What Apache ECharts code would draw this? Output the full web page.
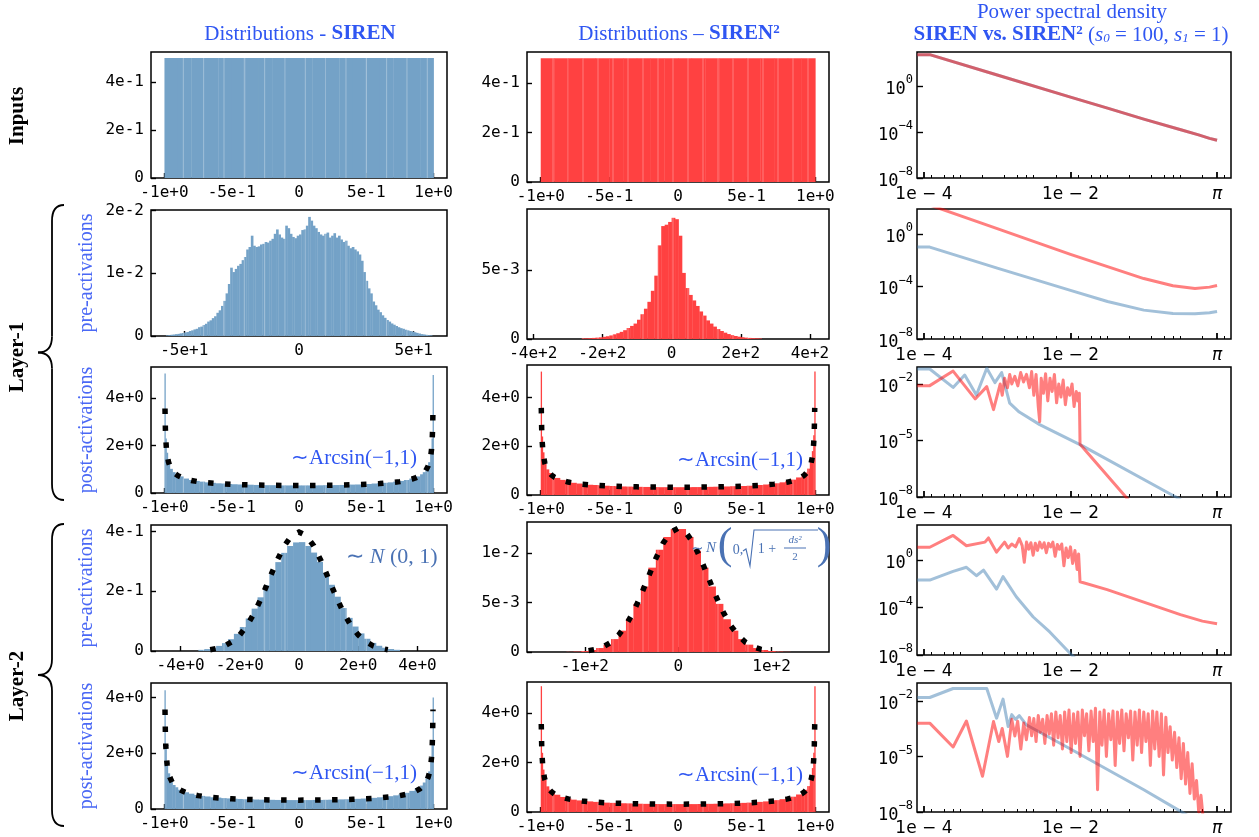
<!DOCTYPE html>
<html>
<head>
<meta charset="utf-8">
<title>SIREN vs SIREN² — distributions and power spectral density</title>
<script src="https://cdn.jsdelivr.net/npm/echarts@6.0.0/dist/echarts.min.js"></script>
<style>
  html, body { margin: 0; padding: 0; background: #ffffff; }
  #chart { width: 1259px; height: 837px; }
</style>
</head>
<body>
<div id="chart"></div>
<script>
// ===================== data =====================

// ---- tick labels ----
const unitTicks = [-1, -0.5, 0, 0.5, 1];
const unitTickLabels = ['-1e+0', '-5e-1', '0', '5e-1', '1e+0'];
const inputYTicks = [0, 0.2, 0.4];
const inputYTickLabels = ['0', '2e-1', '4e-1'];
const l1PreSirenXTicks = [-50, 0, 50];
const l1PreSirenXTickLabels = ['-5e+1', '0', '5e+1'];
const l1PreSirenYTicks = [0, 0.01, 0.02];
const l1PreSirenYTickLabels = ['0', '1e-2', '2e-2'];
const l1PreSiren2XTicks = [-400, -200, 0, 200, 400];
const l1PreSiren2XTickLabels = ['-4e+2', '-2e+2', '0', '2e+2', '4e+2'];
const l1PreSiren2YTicks = [0, 0.005];
const l1PreSiren2YTickLabels = ['0', '5e-3'];
const postYTicks = [0, 2, 4];
const postYTickLabels = ['0', '2e+0', '4e+0'];
const l2PreSirenXTicks = [-4, -2, 0, 2, 4];
const l2PreSirenXTickLabels = ['-4e+0', '-2e+0', '0', '2e+0', '4e+0'];
const l2PreSirenYTicks = [0, 0.2, 0.4];
const l2PreSirenYTickLabels = ['0', '2e-1', '4e-1'];
const l2PreSiren2XTicks = [-100, 0, 100];
const l2PreSiren2XTickLabels = ['-1e+2', '0', '1e+2'];
const l2PreSiren2YTicks = [0, 0.005, 0.01];
const l2PreSiren2YTickLabels = ['0', '5e-3', '1e-2'];
const psdXTicks = [1e-4, 1e-2, 1];
const psdXTickLabels = ['1e − 4', '1e − 2', '{i|π}'];
const psdXMinorTicks = [1.26e-4, 1.89e-4, 2.52e-4, 3.15e-4, 6.31e-4, 1.26e-3, 1.89e-3, 2.52e-3, 3.15e-3,
  6.31e-3, 1.26e-2, 1.89e-2, 2.52e-2, 3.15e-2, 6.31e-2, 0.126, 0.189, 0.252, 0.315, 0.631, 1.26];
const psdYTicksWide = [1, 1e-4, 1e-8];
const psdYTicksNarrow = [1e-2, 1e-5, 1e-8];

// ---- histograms: inputs (uniform on [-1, 1]) ----
const inputBinStart = -1, inputBinWidth = 0.1;
const inputHeightsSiren = [0.5, 0.5, 0.5, 0.5, 0.5, 0.5, 0.5, 0.5, 0.5, 0.5, 0.5, 0.5, 0.5, 0.5, 0.5, 0.5, 0.5, 0.5, 0.5, 0.5];
const inputHeightsSiren2 = [0.5, 0.5, 0.5, 0.5, 0.5, 0.5, 0.5, 0.5, 0.5, 0.5, 0.5, 0.5, 0.5, 0.5, 0.5, 0.5, 0.5, 0.5, 0.5, 0.5];

// ---- histograms: layer-1 pre-activations ----
const l1PreSirenBinStart = -58, l1PreSirenBinWidth = 1;
const l1PreSirenHeights = [
  1.0e-4, 1.4e-4, 2.0e-4, 2.4e-4, 3.0e-4, 3.4e-4, 4.2e-4, 4.8e-4, 5.7e-4, 6.3e-4,
  8.0e-4, 9.0e-4, 1.05e-3, 1.15e-3, 1.4e-3, 1.5e-3, 1.75e-3, 1.95e-3, 2.3e-3, 2.5e-3,
  2.85e-3, 3.15e-3, 3.7e-3, 4.1e-3, 4.8e-3, 5.6e-3, 6.8e-3, 8.3e-3, 1.09e-2, 1.02e-2,
  1.07e-2, 1.12e-2, 1.15e-2, 1.21e-2, 1.26e-2, 1.38e-2, 1.42e-2, 1.6e-2, 1.44e-2, 1.42e-2,
  1.43e-2, 1.46e-2, 1.47e-2, 1.5e-2, 1.49e-2, 1.52e-2, 1.55e-2, 1.63e-2, 1.7e-2, 1.62e-2,
  1.57e-2, 1.55e-2, 1.76e-2, 1.72e-2, 1.63e-2, 1.58e-2, 1.56e-2, 1.6e-2, 1.62e-2, 1.69e-2,
  1.7e-2, 1.76e-2, 1.9e-2, 1.84e-2, 1.76e-2, 1.72e-2, 1.66e-2, 1.62e-2, 1.6e-2, 1.63e-2,
  1.65e-2, 1.57e-2, 1.6e-2, 1.64e-2, 1.57e-2, 1.6e-2, 1.54e-2, 1.5e-2, 1.52e-2, 1.44e-2,
  1.4e-2, 1.42e-2, 1.38e-2, 1.35e-2, 1.3e-2, 1.2e-2, 1.02e-2, 8.8e-3, 7.6e-3, 6.8e-3,
  5.5e-3, 4.9e-3, 4.2e-3, 3.8e-3, 3.3e-3, 2.9e-3, 2.55e-3, 2.3e-3, 2.0e-3, 1.8e-3,
  1.6e-3, 1.4e-3, 1.25e-3, 1.15e-3, 1.0e-3, 9.0e-4, 8.0e-4, 7.0e-4, 6.0e-4, 5.0e-4,
  4.0e-4, 3.0e-4, 2.5e-4, 1.9e-4, 1.4e-4, 1.0e-4];
const l1PreSiren2BinStart = -260, l1PreSiren2BinWidth = 10;
const l1PreSiren2Heights = [5e-5, 5e-5, 6e-5, 8e-5, 1.0e-4, 1.2e-4, 1.6e-4, 2.0e-4, 2.6e-4, 3.4e-4,
  4.2e-4, 5.2e-4, 6.4e-4, 8.0e-4, 9.5e-4, 1.12e-3, 1.4e-3, 1.8e-3, 2.2e-3, 2.7e-3,
  3.5e-3, 4.6e-3, 6.8e-3, 8.2e-3, 8.3e-3, 8.5e-3, 8.8e-3, 8.7e-3, 7.5e-3, 4.8e-3,
  3.7e-3, 3.2e-3, 2.8e-3, 2.4e-3, 2.0e-3, 1.7e-3, 1.35e-3, 1.12e-3, 9.0e-4, 7.2e-4,
  5.8e-4, 4.6e-4, 3.6e-4, 2.8e-4, 2.2e-4, 1.7e-4, 1.3e-4, 1.0e-4, 8e-5, 6e-5, 5e-5, 4e-5];

// ---- histograms: post-activations (arcsine shaped) ----
const arcsinEdges = [-1, -0.993, -0.985, -0.975, -0.96, -0.94, -0.92, -0.9,
  -0.86, -0.82, -0.78, -0.74, -0.7, -0.66, -0.62, -0.58, -0.54, -0.5, -0.46, -0.42, -0.38, -0.34, -0.3,
  -0.26, -0.22, -0.18, -0.14, -0.1, -0.06, -0.02, 0.02, 0.06, 0.1, 0.14, 0.18, 0.22, 0.26, 0.3, 0.34,
  0.38, 0.42, 0.46, 0.5, 0.54, 0.58, 0.62, 0.66, 0.7, 0.74, 0.78, 0.82, 0.86,
  0.9, 0.92, 0.94, 0.96, 0.975, 0.985, 0.993, 1];
const l1PostSirenHeights = [5.05, 2.3, 1.7, 1.3, 1.02, 0.88, 0.79,
  0.7, 0.61, 0.55, 0.51, 0.48, 0.45, 0.43, 0.41, 0.4, 0.38, 0.37, 0.36, 0.355, 0.35, 0.34, 0.335, 0.33, 0.33, 0.325, 0.32, 0.32, 0.32,
  0.32,
  0.32, 0.32, 0.32, 0.325, 0.33, 0.33, 0.335, 0.34, 0.35, 0.355, 0.36, 0.37, 0.38, 0.4, 0.41, 0.43, 0.45, 0.48, 0.51, 0.55, 0.61, 0.7,
  0.79, 0.88, 1.02, 1.3, 1.7, 2.3, 4.98];
const l1PostSiren2Heights = [5.06, 2.4, 1.75, 1.3, 1.05, 0.9, 0.8,
  0.7, 0.62, 0.55, 0.5, 0.47, 0.44, 0.42, 0.41, 0.39, 0.38, 0.37, 0.36, 0.35, 0.345, 0.34, 0.335, 0.33, 0.33, 0.325, 0.32, 0.32, 0.32,
  0.32,
  0.32, 0.32, 0.325, 0.325, 0.33, 0.335, 0.34, 0.345, 0.35, 0.36, 0.365, 0.37, 0.38, 0.39, 0.41, 0.43, 0.45, 0.48, 0.52, 0.56, 0.63, 0.72,
  0.82, 0.92, 1.08, 1.35, 1.8, 2.45, 5.06];
const l2PostSirenHeights = [4.26, 2.2, 1.65, 1.28, 1.0, 0.86, 0.78,
  0.69, 0.6, 0.55, 0.5, 0.47, 0.45, 0.42, 0.41, 0.39, 0.38, 0.37, 0.36, 0.35, 0.35, 0.34, 0.335, 0.33, 0.33, 0.325, 0.32, 0.32, 0.32,
  0.32,
  0.32, 0.32, 0.325, 0.325, 0.33, 0.335, 0.34, 0.345, 0.35, 0.36, 0.365, 0.375, 0.39, 0.4, 0.42, 0.44, 0.46, 0.49, 0.53, 0.58, 0.65, 0.74,
  0.84, 0.95, 1.1, 1.35, 1.75, 2.3, 4.0];
const l2PostSiren2Heights = [5.1, 2.4, 1.72, 1.3, 1.04, 0.9, 0.8,
  0.7, 0.61, 0.55, 0.5, 0.47, 0.45, 0.43, 0.41, 0.4, 0.38, 0.37, 0.36, 0.355, 0.35, 0.34, 0.335, 0.33, 0.33, 0.325, 0.32, 0.32, 0.32,
  0.32,
  0.32, 0.32, 0.32, 0.325, 0.33, 0.33, 0.335, 0.34, 0.35, 0.355, 0.36, 0.37, 0.38, 0.4, 0.41, 0.43, 0.45, 0.48, 0.52, 0.56, 0.62, 0.71,
  0.8, 0.9, 1.05, 1.32, 1.78, 2.4, 5.1];

// ---- histograms: layer-2 pre-activations (Gaussian shaped) ----
const l2PreSirenBinStart = -3.4, l2PreSirenBinWidth = 0.2;
const l2PreSirenHeights = [0.0038, 0.0064, 0.0107, 0.0171, 0.0264, 0.0396, 0.0575, 0.0803, 0.109, 0.142,
  0.18, 0.22, 0.26, 0.298, 0.329, 0.352, 0.364, 0.365, 0.352, 0.33, 0.299, 0.262, 0.222, 0.182,
  0.144, 0.111, 0.082, 0.059, 0.041, 0.0272, 0.0175, 0.011, 0.0066, 0.004];
const l2PreSiren2BinStart = -120, l2PreSiren2BinWidth = 8;
const l2PreSiren2Heights = [1.8e-5, 4.2e-5, 9.5e-5, 2.0e-4, 4.0e-4, 7.4e-4, 1.3e-3, 2.15e-3, 3.35e-3, 4.85e-3,
  6.6e-3, 8.5e-3, 1.03e-2, 1.16e-2, 1.24e-2, 1.24e-2, 1.16e-2, 1.02e-2, 8.5e-3, 6.6e-3,
  4.85e-3, 3.3e-3, 2.15e-3, 1.3e-3, 7.4e-4, 4.0e-4, 2.0e-4, 9.5e-5, 4.2e-5, 1.8e-5];

// ---- reference densities (dotted) ----
const arcsinCurveX = [-0.996, -0.993, -0.99, -0.985, -0.98, -0.97, -0.96, -0.94, -0.92, -0.9, -0.87, -0.84, -0.8, -0.75, -0.7,
  -0.6, -0.5, -0.4, -0.3, -0.2, -0.1, 0, 0.1, 0.2, 0.3, 0.4, 0.5, 0.6,
  0.7, 0.75, 0.8, 0.84, 0.87, 0.9, 0.92, 0.94, 0.96, 0.97, 0.98, 0.985, 0.99, 0.993, 0.996];
const arcsinCurveY = [3.57, 2.7, 2.26, 1.84, 1.6, 1.31, 1.14, 0.93, 0.81, 0.73, 0.65, 0.59, 0.53, 0.48, 0.446,
  0.398, 0.368, 0.347, 0.334, 0.325, 0.32, 0.318, 0.32, 0.325, 0.334, 0.347, 0.368, 0.398,
  0.446, 0.48, 0.53, 0.59, 0.65, 0.73, 0.81, 0.93, 1.14, 1.31, 1.6, 1.84, 2.26, 2.7, 3.57];
const normalCurveX = [-3, -2.75, -2.5, -2.25, -2, -1.75, -1.5, -1.25, -1, -0.75, -0.5, -0.25, 0,
  0.25, 0.5, 0.75, 1, 1.25, 1.5, 1.75, 2, 2.25, 2.5, 2.75, 3];
const normalCurveY = [0.0044, 0.0091, 0.0175, 0.0317, 0.054, 0.0863, 0.1295, 0.1826, 0.242, 0.3011, 0.3521, 0.3867, 0.3989,
  0.3867, 0.3521, 0.3011, 0.242, 0.1826, 0.1295, 0.0863, 0.054, 0.0317, 0.0175, 0.0091, 0.0044];
const wideNormalCurveX = [-96, -88, -80, -72, -64, -56, -48, -40, -32, -24, -16, -8, 0,
  8, 16, 24, 32, 40, 48, 56, 64, 72, 80, 88, 96];
const wideNormalCurveY = [1.39e-4, 2.84e-4, 5.48e-4, 9.86e-4, 1.69e-3, 2.69e-3, 4.05e-3, 5.71e-3, 7.56e-3, 9.41e-3, 1.1e-2, 1.208e-2, 1.247e-2,
  1.208e-2, 1.1e-2, 9.41e-3, 7.56e-3, 5.71e-3, 4.05e-3, 2.69e-3, 1.69e-3, 9.86e-4, 5.48e-4, 2.84e-4, 1.39e-4];

// ---- power spectral densities ----
const psdInFreq = [8.1e-5, 1.2e-4, 1.0e-3, 1.0e-2, 3.2e-2, 1.0e-1, 3.2e-1, 5.6e-1, 7.9e-1, 1.0];
const psdInSiren = [525, 525, 8.9, 0.107, 1.17e-2, 1.32e-3, 1.58e-4, 5.6e-5, 2.8e-5, 1.9e-5];
const psdInSiren2 = [525, 525, 8.9, 0.107, 1.17e-2, 1.32e-3, 1.58e-4, 5.6e-5, 2.8e-5, 1.9e-5];

const psdL1PreFreq = [8.1e-5, 1.2e-4, 1.0e-3, 1.0e-2, 3.2e-2, 1.0e-1, 2.5e-1, 5.0e-1, 7.9e-1, 1.0];
const psdL1PreSiren = [0.1, 0.1, 2.5e-3, 5.0e-5, 7.1e-6, 1.58e-6, 8.9e-7, 8.3e-7, 1.0e-6, 1.26e-6];
const psdL1PreSiren2 = [158, 158, 2.5, 2.8e-2, 3.2e-3, 4.0e-4, 1.12e-4, 7.1e-5, 8.9e-5, 1.2e-4];

const psdL1PostSirenFreq = [8.1e-5, 1.2e-4, 2.5e-4, 3.6e-4, 5.2e-4, 7.2e-4, 9.3e-4, 1.15e-3, 1.48e-3, 2.0e-3, 3.8e-3, 1.48e-2, 2.3e-1, 3.2e-1];
const psdL1PostSiren = [6.2e-2, 6.2e-2, 6.5e-3, 2.95e-2, 2.6e-3, 6.8e-2, 1.17e-2, 4.0e-2, 9.5e-4, 3.2e-4, 6.9e-5, 5.0e-6, 1.45e-8, 7.4e-9];
const psdL1PostSiren2Freq = [8.1e-5, 1.2e-4, 2.5e-4, 5.0e-4, 7.2e-4, 8.9e-4, 1.10e-3, 1.17e-3, 1.26e-3, 1.38e-3,
  1.48e-3, 1.58e-3, 1.74e-3, 1.91e-3, 2.09e-3, 2.29e-3, 2.51e-3, 2.75e-3, 2.95e-3, 3.16e-3,
  3.39e-3, 3.63e-3, 3.80e-3, 3.98e-3, 4.27e-3, 4.57e-3, 4.90e-3, 5.25e-3, 5.62e-3, 6.03e-3,
  6.46e-3, 6.92e-3, 7.41e-3, 7.94e-3, 8.51e-3, 9.12e-3, 9.77e-3, 1.05e-2, 1.12e-2, 1.20e-2,
  1.26e-2, 1.32e-2, 1.35e-2, 5.25e-2, 1.0e-1];
const psdL1PostSiren2 = [8.1e-3, 8.1e-3, 4.8e-2, 1.6e-3, 7.2e-3, 4.3e-4, 1.0e-2, 2.5e-3, 2.0e-2, 6.3e-3,
  3.2e-2, 1.0e-2, 2.5e-2, 7.9e-3, 4.0e-2, 1.26e-2, 3.2e-2, 6.3e-3, 4.5e-2, 2.5e-3,
  3.2e-2, 6.3e-4, 1.0e-4, 2.0e-2, 3.2e-3, 3.5e-2, 1.26e-3, 2.0e-2, 4.0e-3, 3.2e-2,
  1.0e-3, 1.0e-2, 2.0e-3, 1.6e-2, 7.9e-4, 6.3e-3, 2.5e-3, 1.0e-2, 6.3e-4, 4.0e-3,
  1.26e-3, 3.2e-3, 6.3e-6, 1.45e-8, 7.9e-10];

const psdL2PreSirenFreq = [8.1e-5, 1.2e-4, 2.5e-4, 3.8e-4, 5.2e-4, 6.5e-4, 9.8e-4, 1.2e-3, 1.82e-3, 3.1e-3, 5.25e-3, 1.0e-2, 1.26e-2];
const psdL2PreSiren = [2.0e-2, 2.0e-2, 0.11, 0.24, 4.7e-2, 0.14, 3.5e-3, 3.9e-2, 7.9e-4, 1.58e-5, 8.3e-7, 1.26e-8, 3.2e-9];
const psdL2PreSiren2Freq = [8.1e-5, 1.2e-4, 2.5e-4, 3.8e-4, 6.8e-4, 7.6e-4, 9.8e-4, 1.26e-3, 1.41e-3, 1.58e-3,
  1.78e-3, 2.0e-3, 2.19e-3, 2.34e-3, 2.51e-3, 2.69e-3, 2.88e-3, 3.09e-3, 3.31e-3, 3.55e-3,
  3.80e-3, 4.07e-3, 4.37e-3, 4.68e-3, 5.01e-3, 5.37e-3, 5.75e-3, 6.17e-3, 6.61e-3, 7.08e-3,
  7.59e-3, 8.13e-3, 8.71e-3, 9.33e-3, 1.0e-2, 1.07e-2, 1.15e-2, 1.23e-2, 1.29e-2, 1.35e-2,
  3.16e-2, 0.1, 0.316, 0.631, 1.0];
const psdL2PreSiren2 = [11.7, 11.7, 115, 15.5, 31.6, 71, 4.5, 31.6, 10, 22,
  12.6, 63, 16, 0.63, 31.6, 7.9, 28, 2.5, 25, 6.3,
  31.6, 10, 28, 4.0, 25, 12.6, 31.6, 2.0, 20, 7.9,
  22, 0.32, 10, 1.58, 12.6, 0.5, 6.3, 0.16, 3.2, 1.45e-2,
  3.2e-3, 2.8e-4, 2.5e-5, 7.1e-6, 4.3e-6];

const psdL2PostSirenFreq = [8.1e-5, 1.2e-4, 2.5e-4, 7.2e-4, 9.8e-4, 1.2e-3, 1.41e-3, 1.58e-3, 1.78e-3, 2.0e-3, 2.5e-3, 2.75e-3, 1.0e-2, 0.1, 0.31, 0.4];
const psdL2PostSiren = [1.5e-2, 1.5e-2, 4.6e-2, 4.6e-2, 1.15e-3, 1.23e-2, 4.1e-4, 1.8e-3, 1.0e-3, 1.58e-3, 5.0e-4, 4.1e-4, 2.5e-5, 1.58e-7, 1.15e-8, 6.3e-9];
const psdL2PostSiren2Freq = [8.1e-5, 1.2e-4, 2.5e-4, 3.8e-4, 6.3e-4, 8.9e-4, 1.05e-3, 1.17e-3, 1.38e-3, 1.58e-3,
  1.74e-3, 1.9e-3, 2.1e-3, 2.3e-3, 2.5e-3,
  2.75e-3, 2.95e-3, 3.16e-3, 3.39e-3, 3.63e-3, 3.89e-3, 4.17e-3, 4.47e-3, 4.79e-3, 5.13e-3,
  5.50e-3, 5.89e-3, 6.31e-3, 6.76e-3, 7.24e-3, 7.76e-3, 8.32e-3, 8.91e-3, 9.55e-3, 1.02e-2,
  1.10e-2, 1.17e-2, 1.26e-2, 1.35e-2, 1.45e-2, 1.55e-2, 1.66e-2, 1.78e-2, 1.91e-2, 2.04e-2,
  2.19e-2, 2.34e-2, 2.51e-2, 2.69e-2, 2.88e-2, 3.09e-2, 3.31e-2, 3.55e-2, 3.80e-2, 4.07e-2,
  4.37e-2, 4.68e-2, 5.01e-2, 5.37e-2, 5.75e-2, 6.17e-2, 6.61e-2, 7.08e-2, 7.59e-2, 8.13e-2,
  8.71e-2, 9.33e-2, 1.00e-1, 1.07e-1, 1.15e-1, 1.23e-1, 1.32e-1, 1.41e-1, 1.51e-1, 1.62e-1,
  1.74e-1, 1.86e-1, 2.00e-1, 2.14e-1, 2.29e-1, 2.45e-1, 2.63e-1, 2.82e-1, 3.02e-1, 3.24e-1,
  3.47e-1, 3.72e-1, 3.98e-1, 4.27e-1, 4.57e-1, 4.90e-1, 5.25e-1, 5.62e-1, 6.03e-1, 6.46e-1];
const psdL2PostSiren2 = [6.2e-4, 6.2e-4, 3.2e-5, 8.1e-4, 8.5e-7, 7.6e-4, 6.3e-5, 3.2e-4, 1.0e-5, 1.0e-3,
  1.26e-4, 7.9e-4, 2.5e-5, 6.3e-4, 7.9e-5,
  1.26e-3, 1.3e-4, 1.1e-3, 6.3e-5, 1.6e-3, 2.0e-4, 1.0e-3, 5.0e-5, 1.6e-3, 1.6e-4,
  2.0e-3, 4.0e-5, 2.5e-3, 1.0e-4, 1.6e-3, 2.5e-5, 2.5e-3, 6.3e-5, 3.2e-3, 1.6e-5,
  2.0e-3, 5.0e-5, 2.5e-3, 1.0e-5, 3.2e-3, 1.3e-4, 2.0e-3, 2.0e-5, 2.8e-3, 6.3e-5,
  4.0e-3, 1.6e-7, 2.5e-3, 4.0e-5, 3.2e-3, 1.0e-5, 2.0e-3, 8.0e-5, 2.8e-3, 3.2e-6,
  2.5e-3, 5.0e-5, 3.2e-3, 2.0e-5, 2.0e-3, 1.0e-4, 2.8e-3, 6.3e-6, 2.5e-3, 4.0e-5,
  3.2e-3, 1.6e-5, 2.5e-3, 6.3e-5, 2.0e-3, 3.2e-6, 2.8e-3, 2.5e-5, 2.5e-3, 1.0e-5,
  2.0e-3, 1.0e-6, 1.3e-3, 1.6e-5, 4.0e-4, 6.3e-6, 2.0e-4, 2.5e-6, 1.0e-4, 6.3e-7,
  5.0e-5, 3.2e-7, 1.6e-5, 1.0e-7, 4.0e-6, 5.0e-8, 5.0e-7, 1.0e-8, 8.0e-8, 5.0e-9];

// ===================== styling & layout =====================
const SERIF = 'Liberation Serif';
const MONO = 'DejaVu Sans Mono';
const SANS = 'DejaVu Sans';
const BLUE_FILL = '#74a2c7';
const RED_FILL = '#ff4141';
const STRIPE = 'rgba(255,255,255,0.32)';
const BLUE_LINE = 'rgba(70,130,180,0.5)';
const RED_LINE = 'rgba(255,0,0,0.5)';
const TITLE_BLUE = '#2f56f2';
const LABEL_BLUE = '#4a68f5';
const NORMAL_BLUE = '#4a72b4';

const COL_LEFT = [151, 527, 917];
const COL_WIDTH = [296, 302, 314];
const ROW_TOP = [[52, 210, 367, 525, 683], [52, 209, 365, 522, 682], [52, 209, 367, 525, 683]];
const ROW_HEIGHT = [[126, 126, 126, 126, 126], [130, 130, 130, 130, 130], [126, 130, 130, 130, 130]];
const STRIPE_PERIOD = [20.33, 15];
const STRIPE_OFFSET = [12, 11];

// ===================== helpers =====================
const uniformBins = (start, width, heights) => heights.map((h, i) => [start + i * width, start + (i + 1) * width, h]);
const edgeBins = (edges, heights) => heights.map((h, i) => [edges[i], edges[i + 1], h]);
const zip = (xs, ys) => xs.map((x, i) => [x, ys[i]]);

function pickLabel(ticks, labels, v, log) {
  let best = 0;
  const d = t => log ? Math.abs(Math.log10(t) - Math.log10(v)) : Math.abs(t - v);
  ticks.forEach((t, i) => { if (d(t) < d(ticks[best])) best = i; });
  return labels[best];
}

const grids = [], xAxis = [], yAxis = [], series = [];

function addGrid(col, row) {
  grids.push({
    left: COL_LEFT[col], top: ROW_TOP[col][row], width: COL_WIDTH[col], height: ROW_HEIGHT[col][row],
    show: true, borderColor: '#000', borderWidth: 1.5, backgroundColor: 'transparent', containLabel: false
  });
  return grids.length - 1;
}

function linearAxis(gridIndex, range, ticks, labels, isX) {
  return {
    type: 'value', gridIndex, min: range[0], max: range[1], position: isX ? 'bottom' : 'left',
    axisLine: { show: false, onZero: false }, splitLine: { show: false },
    axisTick: { show: true, inside: true, length: 5, customValues: ticks, lineStyle: { color: '#000', width: 1.4 } },
    axisLabel: {
      show: true, customValues: ticks, margin: 7, color: '#000', fontFamily: MONO, fontSize: 16,
      formatter: v => pickLabel(ticks, labels, v, false)
    }
  };
}

function histRenderer(fill, col) {
  const period = STRIPE_PERIOD[col], offset = STRIPE_OFFSET[col];
  return function (params, api) {
    const top = api.coord([api.value(0), api.value(2)]);
    const base = api.coord([api.value(1), 0]);
    const x0 = top[0], x1 = base[0], h = base[1] - top[1];
    const children = [{ type: 'rect', shape: { x: x0, y: top[1], width: Math.max(x1 - x0 + 0.35, 0.9), height: h }, style: { fill } }];
    const origin = params.coordSys.x + offset;
    for (let p = origin + Math.ceil((x0 - origin) / period) * period; p < x1; p += period) {
      children.push({ type: 'rect', shape: { x: p - 0.5, y: top[1], width: 1, height: h }, style: { fill: STRIPE } });
    }
    return { type: 'group', children };
  };
}

// ===================== histogram panels =====================
const histPanels = [
  { col: 0, row: 0, x: [-1.1, 1.1], y: [0, 0.525], xt: unitTicks, xl: unitTickLabels, yt: inputYTicks, yl: inputYTickLabels,
    bins: uniformBins(inputBinStart, inputBinWidth, inputHeightsSiren), fill: BLUE_FILL },
  { col: 1, row: 0, x: [-1.1, 1.1], y: [0, 0.525], xt: unitTicks, xl: unitTickLabels, yt: inputYTicks, yl: inputYTickLabels,
    bins: uniformBins(inputBinStart, inputBinWidth, inputHeightsSiren2), fill: RED_FILL },
  { col: 0, row: 1, x: [-64.5, 64.5], y: [0, 0.0201], xt: l1PreSirenXTicks, xl: l1PreSirenXTickLabels, yt: l1PreSirenYTicks, yl: l1PreSirenYTickLabels,
    bins: uniformBins(l1PreSirenBinStart, l1PreSirenBinWidth, l1PreSirenHeights), fill: BLUE_FILL },
  { col: 1, row: 1, x: [-418, 455], y: [0, 0.00944], xt: l1PreSiren2XTicks, xl: l1PreSiren2XTickLabels, yt: l1PreSiren2YTicks, yl: l1PreSiren2YTickLabels,
    bins: uniformBins(l1PreSiren2BinStart, l1PreSiren2BinWidth, l1PreSiren2Heights), fill: RED_FILL },
  { col: 0, row: 2, x: [-1.1, 1.1], y: [0, 5.32], xt: unitTicks, xl: unitTickLabels, yt: postYTicks, yl: postYTickLabels,
    bins: edgeBins(arcsinEdges, l1PostSirenHeights), fill: BLUE_FILL, curve: [arcsinCurveX, arcsinCurveY] },
  { col: 1, row: 2, x: [-1.1, 1.1], y: [0, 5.33], xt: unitTicks, xl: unitTickLabels, yt: postYTicks, yl: postYTickLabels,
    bins: edgeBins(arcsinEdges, l1PostSiren2Heights), fill: RED_FILL, curve: [arcsinCurveX, arcsinCurveY] },
  { col: 0, row: 3, x: [-5, 5], y: [0, 0.4224], xt: l2PreSirenXTicks, xl: l2PreSirenXTickLabels, yt: l2PreSirenYTicks, yl: l2PreSirenYTickLabels,
    bins: uniformBins(l2PreSirenBinStart, l2PreSirenBinWidth, l2PreSirenHeights), fill: BLUE_FILL, curve: [normalCurveX, normalCurveY] },
  { col: 1, row: 3, x: [-162, 161.5], y: [0, 0.0131], xt: l2PreSiren2XTicks, xl: l2PreSiren2XTickLabels, yt: l2PreSiren2YTicks, yl: l2PreSiren2YTickLabels,
    bins: uniformBins(l2PreSiren2BinStart, l2PreSiren2BinWidth, l2PreSiren2Heights), fill: RED_FILL, curve: [wideNormalCurveX, wideNormalCurveY] },
  { col: 0, row: 4, x: [-1.1, 1.1], y: [0, 4.52], xt: unitTicks, xl: unitTickLabels, yt: postYTicks, yl: postYTickLabels,
    bins: edgeBins(arcsinEdges, l2PostSirenHeights), fill: BLUE_FILL, curve: [arcsinCurveX, arcsinCurveY] },
  { col: 1, row: 4, x: [-1.1, 1.1], y: [0, 5.27], xt: unitTicks, xl: unitTickLabels, yt: postYTicks, yl: postYTickLabels,
    bins: edgeBins(arcsinEdges, l2PostSiren2Heights), fill: RED_FILL, curve: [arcsinCurveX, arcsinCurveY] }
];

histPanels.forEach(p => {
  const gi = addGrid(p.col, p.row);
  xAxis.push(linearAxis(gi, p.x, p.xt, p.xl, true));
  yAxis.push(linearAxis(gi, p.y, p.yt, p.yl, false));
  const xi = xAxis.length - 1, yi = yAxis.length - 1;
  series.push({
    type: 'custom', xAxisIndex: xi, yAxisIndex: yi, data: p.bins, encode: { x: [0, 1], y: 2 },
    renderItem: histRenderer(p.fill, p.col), clip: true, silent: true, z: 2
  });
  if (p.curve) {
    series.push({
      type: 'line', xAxisIndex: xi, yAxisIndex: yi, data: zip(p.curve[0], p.curve[1]),
      showSymbol: false, symbol: 'none', silent: true, z: 5, clip: false,
      lineStyle: { color: '#000', width: 5.5, type: [5.5, 11.5], cap: 'butt', join: 'miter' }
    });
  }
});

// ===================== power spectral density panels =====================
const PSD_X_RANGE = [8.04e-5, 1.55];
const psdPanels = [
  { row: 0, y: [1e-8, 891], yt: psdYTicksWide,
    lines: [[psdInFreq, psdInSiren, BLUE_LINE], [psdInFreq, psdInSiren2, RED_LINE]] },
  { row: 1, y: [1e-8, 79], yt: psdYTicksWide,
    lines: [[psdL1PreFreq, psdL1PreSiren, BLUE_LINE], [psdL1PreFreq, psdL1PreSiren2, RED_LINE]] },
  { row: 2, y: [1e-8, 0.079], yt: psdYTicksNarrow,
    lines: [[psdL1PostSirenFreq, psdL1PostSiren, BLUE_LINE], [psdL1PostSiren2Freq, psdL1PostSiren2, RED_LINE]] },
  { row: 3, y: [1e-8, 870], yt: psdYTicksWide,
    lines: [[psdL2PreSirenFreq, psdL2PreSiren, BLUE_LINE], [psdL2PreSiren2Freq, psdL2PreSiren2, RED_LINE]] },
  { row: 4, y: [1e-8, 0.091], yt: psdYTicksNarrow,
    lines: [[psdL2PostSirenFreq, psdL2PostSiren, BLUE_LINE], [psdL2PostSiren2Freq, psdL2PostSiren2, RED_LINE]] }
];

const logYLabel = v => {
  const e = Math.round(Math.log10(v));
  return '{b|10}{s|' + (e < 0 ? '−' + (-e) : String(e)) + '}';
};

psdPanels.forEach(p => {
  const gi = addGrid(2, p.row);
  xAxis.push({
    type: 'log', logBase: 10, gridIndex: gi, min: PSD_X_RANGE[0], max: PSD_X_RANGE[1], position: 'bottom',
    axisLine: { show: false, onZero: false }, splitLine: { show: false },
    axisTick: { show: true, inside: true, length: 6, customValues: psdXTicks, lineStyle: { color: '#000', width: 1.8 } },
    axisLabel: {
      show: true, customValues: psdXTicks, margin: 8, color: '#000', fontFamily: SANS, fontSize: 17,
      formatter: v => pickLabel(psdXTicks, psdXTickLabels, v, true),
      rich: { i: { fontFamily: SANS, fontStyle: 'italic', fontSize: 17, color: '#000' } }
    }
  });
  const xi = xAxis.length - 1;
  xAxis.push({
    type: 'log', logBase: 10, gridIndex: gi, min: PSD_X_RANGE[0], max: PSD_X_RANGE[1], position: 'bottom',
    axisLine: { show: false, onZero: false }, splitLine: { show: false }, axisLabel: { show: false },
    axisTick: { show: true, inside: true, length: 3, customValues: psdXMinorTicks, lineStyle: { color: '#000', width: 1 } }
  });
  yAxis.push({
    type: 'log', logBase: 10, gridIndex: gi, min: p.y[0], max: p.y[1], position: 'left',
    axisLine: { show: false, onZero: false }, splitLine: { show: false },
    axisTick: { show: true, inside: true, length: 6, customValues: p.yt, lineStyle: { color: '#000', width: 1.4 } },
    axisLabel: {
      show: true, customValues: p.yt, margin: 4, color: '#000',
      formatter: logYLabel,
      rich: {
        b: { fontFamily: MONO, fontSize: 17, color: '#000', padding: [7, 0, 0, 0] },
        s: { fontFamily: MONO, fontSize: 12, color: '#000', verticalAlign: 'top' }
      }
    }
  });
  const yi = yAxis.length - 1;
  p.lines.forEach(([fx, fy, color], k) => {
    series.push({
      type: 'line', xAxisIndex: xi, yAxisIndex: yi, data: zip(fx, fy),
      showSymbol: false, symbol: 'none', silent: true, clip: true, z: 3 + k,
      lineStyle: { color, width: 3, join: 'round' }
    });
  });
});

// ===================== text & decorations =====================
function text(x, y, str, style, extra) {
  return Object.assign({
    type: 'text', x, y, silent: true, z: 100,
    style: Object.assign({
      text: str, fontFamily: SERIF, fontSize: 21, fill: '#000',
      align: 'center', verticalAlign: 'middle', textAlign: 'center', textVerticalAlign: 'middle'
    }, style)
  }, extra || {});
}
const serifRich = (color, size) => ({
  n: { fontFamily: SERIF, fontSize: size, fill: color, color },
  b: { fontFamily: SERIF, fontSize: size, fontWeight: 'bold', fill: color, color },
  i: { fontFamily: SERIF, fontSize: size, fontStyle: 'italic', fill: color, color },
  sup: { fontFamily: SERIF, fontSize: Math.round(size * 0.6), fontWeight: 'bold', fill: color, color, verticalAlign: 'top' },
  sub: { fontFamily: SERIF, fontSize: Math.round(size * 0.6), fontStyle: 'italic', fill: color, color, verticalAlign: 'bottom' }
});

// curly brace built from straight strokes and cubic Bézier arcs
function brace(top, bottom) {
  const mid = (top + bottom) / 2;
  const st = { fill: 'none', stroke: '#000', lineWidth: 1.8 };
  const bz = (x1, y1, cx1, cy1, cx2, cy2, x2, y2) => ({
    type: 'bezierCurve', silent: true, z: 100, style: st,
    shape: { x1, y1, cpx1: cx1, cpy1: cy1, cpx2: cx2, cpy2: cy2, x2, y2 }
  });
  const ln = (y1, y2) => ({ type: 'line', silent: true, z: 100, style: st, shape: { x1: 52, y1, x2: 52, y2 } });
  return [
    bz(64, top, 56, top, 52, top + 5, 52, top + 16),
    ln(top + 16, mid - 16),
    bz(52, mid - 16, 52, mid - 5, 47, mid, 38, mid),
    bz(38, mid, 47, mid, 52, mid + 5, 52, mid + 16),
    ln(mid + 16, bottom - 16),
    bz(52, bottom - 16, 52, bottom - 5, 56, bottom, 64, bottom)
  ];
}

const graphics = [
  // column titles
  text(300, 34, '{n|Distributions - }{b|SIREN}', { rich: serifRich(TITLE_BLUE, 21), fill: TITLE_BLUE }),
  text(679, 34, '{n|Distributions – }{b|SIREN}{sup|2}', { rich: serifRich(TITLE_BLUE, 21), fill: TITLE_BLUE }),
  text(1072, 12, 'Power spectral density', { fill: TITLE_BLUE }),
  text(1071, 35, '{b|SIREN vs. SIREN}{sup|2}{n| (}{i|s}{sub|0}{n| = 100, }{i|s}{sub|1}{n| = 1)}', { rich: serifRich(TITLE_BLUE, 21), fill: TITLE_BLUE }),
  // row labels
  text(18, 116, 'Inputs', { fontWeight: 'bold' }, { rotation: Math.PI / 2 }),
  text(18, 357, 'Layer-1', { fontWeight: 'bold' }, { rotation: Math.PI / 2 }),
  text(18, 686, 'Layer-2', { fontWeight: 'bold' }, { rotation: Math.PI / 2 }),
  text(87, 273, 'pre-activations', { fill: LABEL_BLUE, fontSize: 20 }, { rotation: Math.PI / 2 }),
  text(87, 430, 'post-activations', { fill: LABEL_BLUE, fontSize: 20 }, { rotation: Math.PI / 2 }),
  text(87, 588, 'pre-activations', { fill: LABEL_BLUE, fontSize: 20 }, { rotation: Math.PI / 2 }),
  text(87, 746, 'post-activations', { fill: LABEL_BLUE, fontSize: 20 }, { rotation: Math.PI / 2 }),
  // braces
  ...brace(205, 500),
  ...brace(524, 826),
  // distribution annotations
  text(354, 458, '∼Arcsin(−1,1)', { fill: TITLE_BLUE }),
  text(740, 460, '∼Arcsin(−1,1)', { fill: TITLE_BLUE }),
  text(354, 773, '∼Arcsin(−1,1)', { fill: TITLE_BLUE }),
  text(740, 775, '∼Arcsin(−1,1)', { fill: TITLE_BLUE }),
  text(392, 557, '{n|∼ }{i|N}{n| (0, 1)}', { rich: serifRich(NORMAL_BLUE, 22), fill: NORMAL_BLUE }),
  // ~N(0, sqrt(1 + ds^2 / 2))
  text(697, 549, '∼', { fill: NORMAL_BLUE, fontSize: 15 }),
  text(711, 548, 'N', { fill: NORMAL_BLUE, fontSize: 15, fontStyle: 'italic' }),
  text(725, 546, '(', { fill: NORMAL_BLUE, fontSize: 44 }),
  text(738, 550, '0,', { fill: NORMAL_BLUE, fontSize: 14 }),
  { type: 'polyline', silent: true, z: 100, shape: { points: [[743, 551], [746, 549], [750, 566], [754, 530], [818, 530]] },
    style: { fill: 'none', stroke: NORMAL_BLUE, lineWidth: 1.1 } },
  text(767, 549, '1 +', { fill: NORMAL_BLUE, fontSize: 14 }),
  text(795, 540, 'ds²', { fill: NORMAL_BLUE, fontSize: 11, fontStyle: 'italic' }),
  { type: 'line', silent: true, z: 100, shape: { x1: 784, y1: 548, x2: 806, y2: 548 }, style: { stroke: NORMAL_BLUE, lineWidth: 1 } },
  text(795, 557, '2', { fill: NORMAL_BLUE, fontSize: 11 }),
  text(824, 546, ')', { fill: NORMAL_BLUE, fontSize: 44 })
];

// ===================== render =====================
const chart = echarts.init(document.getElementById('chart'), null, { renderer: 'canvas' });
chart.setOption({
  animation: false,
  backgroundColor: '#ffffff',
  grid: grids,
  xAxis,
  yAxis,
  series,
  graphic: { elements: graphics }
});
</script>
</body>
</html>
